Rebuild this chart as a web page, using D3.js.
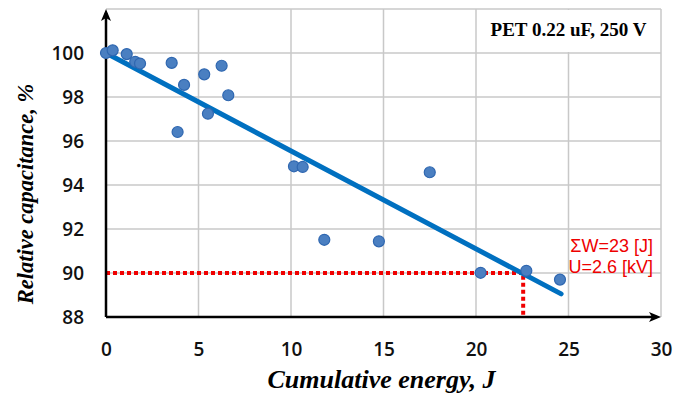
<!DOCTYPE html>
<html>
<head>
<meta charset="utf-8">
<script src="https://cdn.jsdelivr.net/npm/d3@7"></script>
<style>
body { margin: 0; background: #fff; }
</style>
</head>
<body>
<svg width="676" height="398"></svg>
<script>
// measured points (cumulative energy J, relative capacitance %)
var energy = [0, 0.36, 1.12, 1.58, 1.84, 3.55, 3.87, 4.22, 5.31, 5.51, 6.25, 6.61, 10.16, 10.63, 11.8, 14.75, 17.5, 20.25, 22.72, 24.54];
var capacitance = [100.0, 100.12, 99.95, 99.6, 99.52, 99.55, 96.41, 98.55, 99.03, 97.24, 99.42, 98.08, 94.85, 94.82, 91.51, 91.44, 94.58, 90.01, 90.1, 89.7];
// linear fit end points
var fitX = [0, 24.6];
var fitY = [100.0, 89.05];
// 90% threshold marker
var limitX = 22.55;
var limitY = 90;
var xTicks = [0, 5, 10, 15, 20, 25, 30];
var yTicks = [88, 90, 92, 94, 96, 98, 100];
var noteTitle = "PET 0.22 uF, 250 V";
var noteLines = ["\u03a3W=23 [J]", "U=2.6 [kV]"];

var svg = d3.select("svg"),
margin = {top: 9, right: 15, bottom: 81, left: 106},
width = 555,
height = 308,
g = svg.append("g").attr("transform", "translate(" + margin.left + "," + margin.top + ")");

var x = d3.scaleLinear().domain([0, 30]).range([0, width]);
var y = d3.scaleLinear().domain([88, 102]).range([height, 0]);

// grid
g.append("g")
.selectAll("line")
.data(xTicks.slice(1))
.enter().append("line")
.attr("x1", function(d) { return x(d); })
.attr("x2", function(d) { return x(d); })
.attr("y1", 0)
.attr("y2", height)
.attr("stroke", "#c8c8c8")
.attr("stroke-width", 1.5);

g.append("g")
.selectAll("line")
.data(yTicks.slice(1).concat([102]))
.enter().append("line")
.attr("x1", 0)
.attr("x2", width)
.attr("y1", function(d) { return y(d); })
.attr("y2", function(d) { return y(d); })
.attr("stroke", "#c8c8c8")
.attr("stroke-width", 1.5);

// title box covers the grid in the top right cell
g.append("rect")
.attr("x", x(20) + 1)
.attr("y", y(102) + 1)
.attr("width", x(30) - x(20) - 2)
.attr("height", y(100) - y(102) - 2)
.attr("fill", "#fff");

g.append("text")
.attr("x", (x(20) + x(30)) / 2)
.attr("y", 27)
.attr("text-anchor", "middle")
.attr("font-family", "Liberation Serif")
.attr("font-weight", "bold")
.attr("font-size", 19)
.text(noteTitle);

// axes with tick labels
var xAxis = g.append("g")
.attr("transform", "translate(0," + height + ")")
.call(d3.axisBottom(x).tickValues(xTicks).tickSize(0).tickPadding(26));
xAxis.select(".domain").remove();
xAxis.selectAll("text")
.attr("font-family", "Open Sans")
.attr("font-weight", "600")
.attr("font-size", 19)
.attr("fill", "#111");

var yAxis = g.append("g")
.call(d3.axisLeft(y).tickValues(yTicks).tickSize(0).tickPadding(22));
yAxis.select(".domain").remove();
yAxis.selectAll("text")
.attr("font-family", "Open Sans")
.attr("font-weight", "600")
.attr("font-size", 19)
.attr("fill", "#111");

// threshold dotted lines
g.append("path")
.attr("d", d3.line()([[x(0), y(limitY)], [x(limitX), y(limitY)], [x(limitX), height]]))
.attr("fill", "none")
.attr("stroke", "#f00000")
.attr("stroke-width", 4)
.attr("stroke-dasharray", "4,3");

// axis lines with arrows
g.append("line")
.attr("x1", 0).attr("x2", width - 4)
.attr("y1", height).attr("y2", height)
.attr("stroke", "#000").attr("stroke-width", 2.5);
g.append("line")
.attr("x1", 0).attr("x2", 0)
.attr("y1", height).attr("y2", 4)
.attr("stroke", "#000").attr("stroke-width", 2.5);
g.append("path")
.attr("d", "M" + width + "," + height + "l-12,-5l3,5l-3,5z")
.attr("fill", "#000");
g.append("path")
.attr("d", "M0,0l-5,12l5,-3l5,3z")
.attr("fill", "#000");

// fit line
var fit = fitX.map(function(d, i) { return {e: d, c: fitY[i]}; });
g.append("path")
.datum(fit)
.attr("fill", "none")
.attr("stroke", "#0070c0")
.attr("stroke-width", 5)
.attr("stroke-linecap", "round")
.attr("d", d3.line()
  .x(function(d) { return x(d.e); })
  .y(function(d) { return y(d.c); }));

// points
var data = energy.map(function(d, i) { return {e: d, c: capacitance[i]}; });
g.append("g")
.selectAll("circle")
.data(data)
.enter().append("circle")
.attr("cx", function(d) { return x(d.e); })
.attr("cy", function(d) { return y(d.c); })
.attr("r", 5.5)
.attr("fill", "#4a7fc1")
.attr("stroke", "#2f67b0")
.attr("stroke-width", 1.2);

// red annotation
g.append("g")
.selectAll("text")
.data(noteLines)
.enter().append("text")
.attr("x", width - 8)
.attr("y", function(d, i) { return 243 + i * 21; })
.attr("text-anchor", "end")
.attr("font-family", "Liberation Sans")
.attr("font-size", 18)
.attr("fill", "#ee0000")
.text(function(d) { return d; });

// axis titles
svg.append("text")
.attr("x", margin.left + width / 2 - 2)
.attr("y", 388)
.attr("text-anchor", "middle")
.attr("font-family", "Liberation Serif")
.attr("font-style", "italic")
.attr("font-weight", "bold")
.attr("font-size", 26)
.text("Cumulative energy, J");

svg.append("text")
.attr("transform", "translate(33,194) rotate(-90)")
.attr("text-anchor", "middle")
.attr("font-family", "Liberation Serif")
.attr("font-style", "italic")
.attr("font-weight", "bold")
.attr("font-size", 22.5)
.text("Relative capacitance, %");
</script>
</body>
</html>
